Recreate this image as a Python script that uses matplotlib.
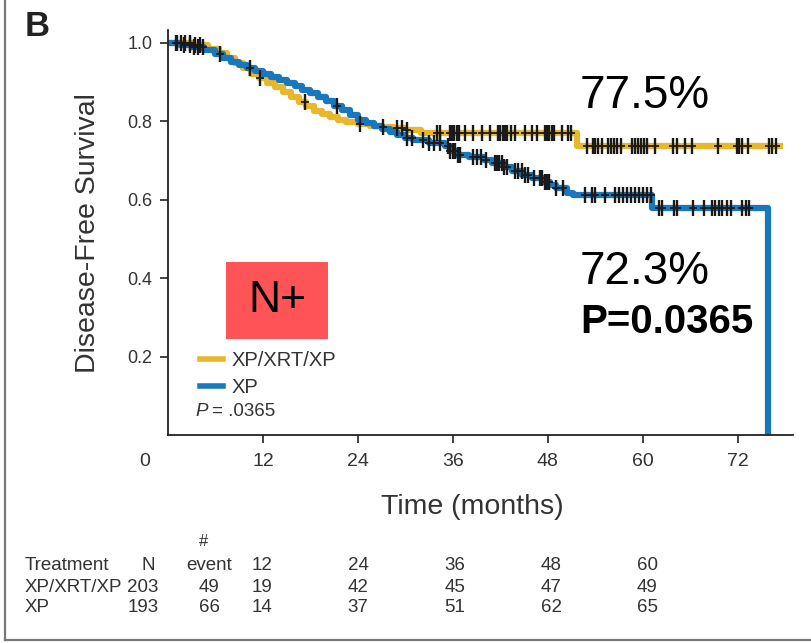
import numpy as np
import matplotlib
matplotlib.use("Agg")
import matplotlib.pyplot as plt
from matplotlib.patches import Rectangle
from matplotlib.lines import Line2D
import warnings
warnings.filterwarnings("ignore")

NARROW = ['Liberation Sans Narrow', 'Liberation Sans', 'DejaVu Sans']
ARIAL = ['Liberation Sans', 'DejaVu Sans']

# ---------------- data ----------------
series_names = ['XP/XRT/XP', 'XP']

xrt_t = [0, 3, 5, 6.5, 7.5, 8.5, 9.5, 10.5, 11.5, 12.5, 13.5, 14.5, 15.5, 16.5,
         17.5, 18.5, 19.5, 20.5, 21.5, 22.5, 24, 25.5, 27, 28.5, 30, 32, 51.7, 77.7]
xrt_s = [1.0, 0.995, 0.985, 0.975, 0.962, 0.948, 0.935, 0.922, 0.91, 0.898, 0.887,
         0.874, 0.862, 0.850, 0.838, 0.826, 0.818, 0.810, 0.804, 0.798, 0.793, 0.789,
         0.786, 0.782, 0.777, 0.771, 0.736, 0.736]

xp_t = [0, 1.5, 3, 4.5, 6, 7, 8, 9, 10, 11, 12, 13, 14, 15, 16, 17, 18, 19, 20,
        21, 22, 23, 24, 25, 26, 27, 28, 29, 30, 31, 33, 35, 35.6, 36.5, 38, 40,
        41, 42.5, 43.5, 44.8, 46, 47.4, 48.3, 49, 50.4, 51.2, 61.2, 75.8]
xp_s = [1.0, 0.995, 0.99, 0.982, 0.972, 0.962, 0.952, 0.944, 0.936, 0.929, 0.922,
        0.913, 0.905, 0.898, 0.89, 0.881, 0.872, 0.862, 0.851, 0.84, 0.828, 0.815,
        0.803, 0.795, 0.787, 0.78, 0.774, 0.766, 0.758, 0.752, 0.745, 0.738, 0.724,
        0.714, 0.709, 0.702, 0.694, 0.684, 0.674, 0.663, 0.655, 0.645, 0.637, 0.63,
        0.618, 0.612, 0.578, 0.0]

xrt_cens = [1.0, 1.6, 2.2, 2.8, 3.4, 4.0, 10.4, 11.6, 17.3, 24.3, 27.2, 29.0, 29.6,
            30.2, 34.0, 34.4, 35.6, 35.9, 36.2, 36.5, 36.8, 37.5, 38.5, 39.7, 40.7,
            41.7, 42.0, 42.3, 42.6, 42.9, 43.4, 43.8, 45.1, 46.0, 46.6, 47.6, 47.9,
            48.2, 48.5, 48.8, 49.8, 50.5, 50.9, 53.0, 53.7, 54.0, 54.4, 54.8, 55.6,
            56.0, 56.4, 56.8, 57.2, 58.6, 59.0, 59.4, 59.8, 60.2, 60.6, 61.5, 63.8,
            64.4, 65.3, 66.2, 69.5, 71.9, 72.2, 72.5, 73.3, 76.0, 76.4, 76.8]
xp_cens = [1.2, 2.0, 2.8, 3.3, 3.8, 4.4, 6.6, 21.3, 30.2, 30.8, 32.2, 33.0, 33.6,
           34.4, 35.4, 35.7, 36.0, 36.3, 36.6, 36.9, 38.5, 39.0, 39.6, 40.2, 41.3,
           41.6, 41.9, 42.2, 42.5, 42.8, 43.8, 44.2, 44.7, 45.1, 45.5, 46.2, 47.0,
           47.3, 47.6, 47.9, 48.2, 49.0, 49.9, 52.7, 53.6, 54.0, 55.2, 56.5, 57.0,
           57.5, 58.0, 58.5, 59.0, 59.5, 60.0, 60.5, 61.0, 62.1, 62.5, 64.0, 64.4,
           66.3, 67.8, 68.8, 69.2, 69.6, 70.0, 70.7, 71.2, 72.6, 73.0, 73.5]

x_ticks = [12, 24, 36, 48, 60, 72]
y_ticks = [0.2, 0.4, 0.6, 0.8, 1.0]

risk_header = ['Treatment', 'N', 'event', '12', '24', '36', '48', '60']
risk_rows = [
    ['XP/XRT/XP', '203', '49', '19', '42', '45', '47', '49'],
    ['XP', '193', '66', '14', '37', '51', '62', '65'],
]

pct_labels = ['77.5%', '72.3%']
p_text = 'P=0.0365'

colors = ['#E9B72C', '#1877BD']

# ---------------- figure ----------------
W, H = 811, 643
fig = plt.figure(figsize=(W / 100, H / 100), dpi=100)

def fx(px):
    return px / W

def fy(py):
    return 1 - py / H

ax = fig.add_axes([fx(168), fy(435), fx(793) - fx(168), fy(30) - fy(435)])
ax.set_xlim(0, 79)
ax.set_ylim(0, 1.033)

def step_val(ts, ss, t):
    idx = np.searchsorted(np.asarray(ts), t, side='right') - 1
    return np.asarray(ss)[idx]

curves = [(xrt_t, xrt_s, xrt_cens), (xp_t, xp_s, xp_cens)]
for (ts, ss, cs), c in zip(curves, colors):
    ax.plot(ts, ss, drawstyle='steps-post', color=c, lw=4.5,
            solid_capstyle='butt', zorder=2)
for (ts, ss, cs), c in zip(curves, colors):
    cy = [step_val(ts, ss, t) for t in cs]
    ax.plot(cs, cy, ls='none', marker='|', ms=12, mew=1.7, color='#1a1a1a', zorder=3)
    ax.plot(cs, cy, ls='none', marker='_', ms=6, mew=1.3, color='#1a1a1a', zorder=3)

for s in ['top', 'right']:
    ax.spines[s].set_visible(False)
for s in ['left', 'bottom']:
    ax.spines[s].set_linewidth(1.3)
    ax.spines[s].set_color('#222222')

ax.set_xticks(x_ticks)
ax.set_xticklabels([str(v) for v in x_ticks], family=NARROW, fontsize=14, color='#333333')
ax.set_yticks(y_ticks)
ax.set_yticklabels(['%.1f' % v for v in y_ticks], family=ARIAL, fontsize=13, color='#333333')
ax.tick_params(axis='both', direction='out', length=6, width=1.2, color='#222222')
ax.tick_params(axis='x', pad=7)
ax.tick_params(axis='y', pad=5)

# "0" label sits left of the origin
fig.text(fx(145), fy(462), '0', family=NARROW, fontsize=14, color='#333333',
         ha='center', va='center')

fig.text(fx(88), fy(233), 'Disease-Free Survival', family=NARROW, fontsize=20.5,
         color='#333333', rotation=90, ha='center', va='center')
fig.text(fx(472), fy(507), 'Time (months)', family=NARROW, fontsize=20.5,
         color='#333333', ha='center', va='center')

# legend
handles = [Line2D([], [], color=c, lw=4) for c in colors]
leg = ax.legend(handles, series_names, loc='upper left',
                bbox_to_anchor=(fx(182), fy(333)), bbox_transform=fig.transFigure,
                frameon=False, handlelength=1.15, handletextpad=0.4,
                labelspacing=0.4, prop={'family': NARROW, 'size': 14.5})
for t in leg.get_texts():
    t.set_color('#333333')
fig.text(fx(195), fy(411), 'P', family=NARROW, style='italic', fontsize=13.5,
         color='#333333', ha='left', va='center')
fig.text(fx(212), fy(411), '= .0365', family=NARROW, fontsize=13.5,
         color='#333333', ha='left', va='center')

# N+ box
fig.patches.append(Rectangle((fx(226), fy(339)), fx(328) - fx(226), fy(262) - fy(339),
                             transform=fig.transFigure, facecolor='#FF5457',
                             edgecolor='none', zorder=5))
fig.text(fx(277), fy(301), 'N+', family=ARIAL, fontsize=32, color='black',
         ha='center', va='center', zorder=6)

fig.text(fx(580), fy(96), pct_labels[0], family=ARIAL, fontsize=33, color='black',
         ha='left', va='center')
fig.text(fx(580), fy(272), pct_labels[1], family=ARIAL, fontsize=33, color='black',
         ha='left', va='center')
fig.text(fx(580), fy(322), p_text, family=ARIAL, fontsize=29, weight='bold',
         color='black', ha='left', va='center')

fig.text(fx(25), fy(27), 'B', family=ARIAL, fontsize=25, weight='bold',
         color='#222222', ha='left', va='center')

# number at risk table
col_x = [25, 148, 209, 262, 358, 455, 551, 647]
row_y = [566, 588, 608]
fig.text(fx(204), fy(541), '#', family=NARROW, fontsize=12, color='#333333',
         ha='center', va='center')
for j, txt in enumerate(risk_header):
    fig.text(fx(col_x[j]), fy(row_y[0]), txt, family=NARROW, fontsize=13.5,
             color='#333333', ha='left' if j == 0 else 'center', va='center')
for i, row in enumerate(risk_rows):
    for j, txt in enumerate(row):
        x = col_x[j]
        if j == 1:
            x = 143
        fig.text(fx(x), fy(row_y[i + 1]), txt, family=NARROW, fontsize=13.5,
                 color='#333333', ha='left' if j == 0 else 'center', va='center')

# outer frame (left and bottom)
fig.lines.append(Line2D([fx(5), fx(5)], [fy(0), fy(640)], transform=fig.transFigure,
                        color='#777777', lw=1.6))
fig.lines.append(Line2D([fx(5), fx(811)], [fy(640), fy(640)], transform=fig.transFigure,
                        color='#777777', lw=1.6))

fig.savefig('out.png', dpi=100)
